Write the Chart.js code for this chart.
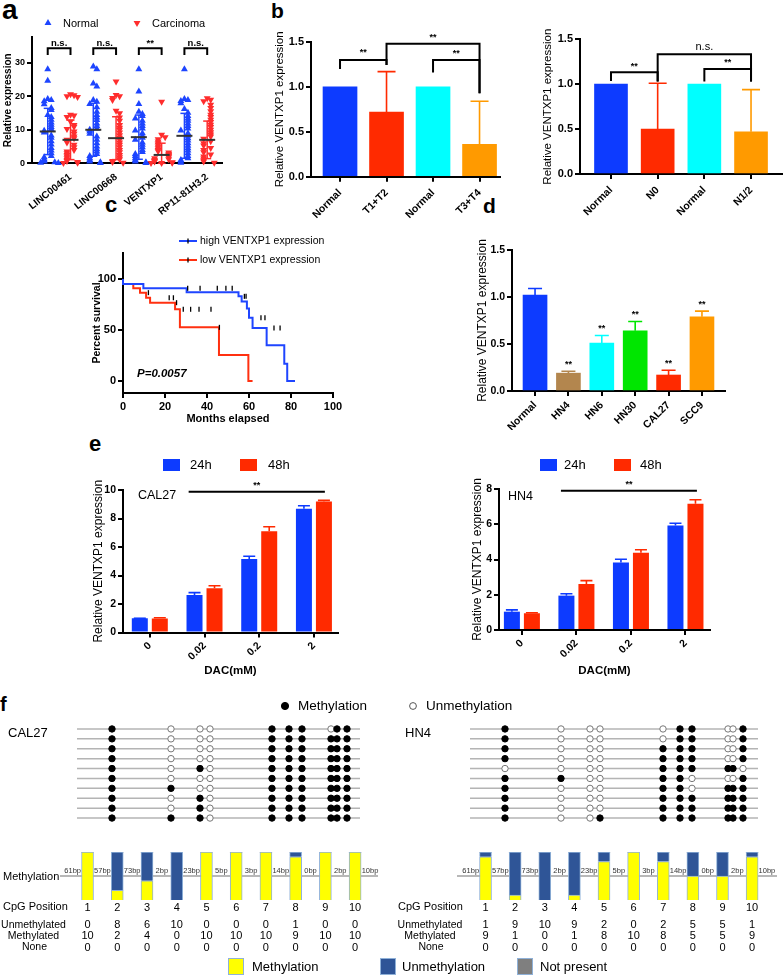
<!DOCTYPE html>
<html><head><meta charset="utf-8">
<script src="https://cdn.jsdelivr.net/npm/chart.js@4.4.1/dist/chart.umd.min.js"></script>
<style>
html,body{margin:0;padding:0;background:#fff;}
body{width:783px;height:976px;position:relative;overflow:hidden;}
.pl{position:absolute;font-family:'Liberation Sans',Arial,sans-serif;font-weight:bold;line-height:1;color:#000;}
</style></head><body>
<div class="pl" style="left:2px;top:-4px;font-size:28px">a</div>
<div class="pl" style="left:271px;top:0px;font-size:21px">b</div>
<div class="pl" style="left:105px;top:194px;font-size:22px">c</div>
<div class="pl" style="left:483px;top:195px;font-size:21px">d</div>
<div class="pl" style="left:89px;top:433px;font-size:22px">e</div>
<div class="pl" style="left:0px;top:694px;font-size:20px">f</div>
<script>
// ================= DATA =================
// panel a
const aGenes = ['LINC00461','LINC00668','VENTXP1','RP11-81H3.2'];
const aNormal1 = [28.1,24.6,19.2,18.9,18.5,17.6,16.5,15.9,14.4,13.8,13,12.2,11.5,10.8,10.2,9.7,9.2,8.3,7.6,6.6,5.6,4.6,3.8,3,2.2,1.8,1.2,0.8,0.5,0.3,0.2,0.1];
const aNormal2 = [28.9,28.1,23.8,22.9,18.9,18.4,17.7,16.7,15.4,14.4,13.7,12.9,11.9,11.1,10.4,10,9.5,8.8,8,7,6,5,4.2,3.5,2.8,2.2,1.5,1,0.5,0.3,0.1];
const aNormal3 = [28.1,21.4,17.7,15.4,14.7,14.1,13.4,12.7,11.9,11.1,10.4,9.8,9,8.2,7.6,7,6.2,5.5,4.8,4,3.4,2.8,2.2,1.5,1,0.5,0.3,0.1];
const aNormal4 = [28.1,19.2,18.9,18.6,17.9,16.2,15.1,14.1,13.4,12.7,11.9,11.1,10.4,9.8,9,8.2,7.5,6.8,6,5.2,4.5,3.8,3,2.2,1.5,1,0.5,0.2];
const aCarc1 = [20.6,20.3,20,19.8,14.5,14.3,13.8,12.5,11.4,10.9,10.2,9.5,8.8,8,7.5,7,6.2,5.5,4.8,4,3.5,3,2.5,2,1.5,1,0.7,0.4,0.2,0.1];
const aCarc2 = [24.4,20.4,20,19.5,18.9,15.7,14.9,13.7,12.7,11.4,10.6,10,9.2,8.4,7.6,7,6.2,5.5,4.8,4,3.3,2.5,1.8,1.2,0.7,0.4,0.2];
const aCarc3 = [18.4,8.5,7.8,7.2,6.5,6,5.5,5,4.5,4,3.6,3.2,2.8,2.5,2.2,1.8,1.5,1.2,1,0.7,0.5,0.3,0.2,0.1,0.1];
const aCarc4 = [19.4,19,18.5,17.5,16.5,15.5,14.5,13.8,13,12.3,11.5,10.8,10,9.3,8.6,8,7.3,6.6,6,5.3,4.6,4,3.3,2.6,2,1.4,0.9,0.5,0.2];
const aNormal = [aNormal1, aNormal2, aNormal3, aNormal4];
const aCarcinoma = [aCarc1, aCarc2, aCarc3, aCarc4];
const aNormalMean = [9.5, 10.0, 7.8, 8.2];
const aNormalSD = [6.9, 7.9, 6.6, 6.7];
const aCarcMean = [7.0, 7.5, 2.5, 7.0];
const aCarcSD = [5.9, 6.4, 3.5, 5.6];
const aSig = ['n.s.','n.s.','**','n.s.'];
const aYTicks = [0,10,20,30];

// panel b
const bTCats = ['Normal','T1+T2','Normal','T3+T4'];
const bTValues = [1.0, 0.72, 1.0, 0.36];
const bTErr = [null, 1.17, null, 0.84];
const bNCats = ['Normal','N0','Normal','N1/2'];
const bNValues = [1.0, 0.50, 1.0, 0.47];
const bNErr = [null, 1.01, null, 0.94];
const bYTicks = [0, 0.5, 1.0, 1.5];

// panel c
const cHighMonths = [0, 9.7, 30.3, 55, 56.5, 59, 60, 61.7, 68.4, 76.8, 78.2, 81.9];
const cHighSurv   = [100, 95, 91, 87, 83, 78, 71, 62, 52, 35, 17, 0];
const cHighCensM  = [30.8, 36.7, 44.9, 49, 52, 57.8, 58.6, 65.7, 67.6, 71.9, 74.8];
const cHighCensS  = [91, 91, 91, 91, 91, 83, 83, 62, 62, 52, 52];
const cLowMonths  = [0, 4.9, 8.1, 11, 12.9, 24.8, 27.1, 45.7, 59.7, 61.7];
const cLowSurv    = [100, 95, 91, 86.6, 81.6, 76.8, 70.3, 52.6, 25.5, 0];
const cLowCensM   = [12.1, 22, 24, 25.5, 28.7, 32.2, 36.2, 41.9, 45.9];
const cLowCensS   = [86.6, 81.6, 81.6, 76.8, 70.3, 70.3, 70.3, 70.3, 52.6];
const cXTicks = [0,20,40,60,80,100];
const cYTicks = [0,50,100];

// panel d
const dLines = ['Normal','HN4','HN6','HN30','CAL27','SCC9'];
const dValues = [1.02, 0.19, 0.51, 0.64, 0.17, 0.79];
const dErr = [1.09, 0.21, 0.59, 0.74, 0.22, 0.85];
const dSig = ['', '**', '**', '**', '**', '**'];

// panel e
const eDoses = ['0','0.02','0.2','2'];
const eCal24 = [1.0, 2.63, 5.16, 8.68];
const eCal24Err = [1.0, 2.80, 5.35, 8.90];
const eCal48 = [0.98, 3.10, 7.10, 9.20];
const eCal48Err = [1.03, 3.28, 7.42, 9.27];
const eHn24 = [1.04, 1.95, 3.83, 5.93];
const eHn24Err = [1.14, 2.06, 4.01, 6.06];
const eHn48 = [0.95, 2.61, 4.39, 7.16];
const eHn48Err = [0.98, 2.80, 4.55, 7.39];
const eCalTicks = [0,2,4,6,8,10];
const eHnTicks = [0,2,4,6,8];

// panel f
const fCalPos = [35, 94, 123, 133, 195, 212, 225, 254, 260, 270];
const fCalLen = 283;
const fHnPos = [35, 91, 120, 130, 193, 210, 222, 258, 263, 273];
const fHnLen = 288;
const fCalRows = [
  [1,0,0,0,1,1,1,0,1,1],
  [1,0,0,0,1,1,1,1,1,1],
  [1,0,0,0,1,1,1,1,1,1],
  [1,0,0,0,1,1,1,1,1,1],
  [1,0,1,0,1,1,1,1,1,1],
  [1,0,0,0,1,1,1,1,1,1],
  [1,1,0,0,1,1,1,1,1,1],
  [1,0,1,0,1,1,1,1,1,1],
  [1,0,1,0,1,1,1,1,1,1],
  [1,1,1,0,1,1,1,1,1,1]];
const fHnRows = [
  [1,0,0,0,0,1,1,0,0,1],
  [1,0,0,0,0,1,1,0,0,1],
  [1,0,0,0,1,1,1,0,0,1],
  [1,0,0,0,1,1,1,0,0,1],
  [0,0,0,0,1,1,1,1,1,0],
  [1,1,0,0,1,1,0,0,0,1],
  [1,0,0,0,1,1,0,1,1,1],
  [1,0,0,0,1,1,1,1,1,1],
  [1,0,0,0,1,1,1,1,1,1],
  [1,0,0,1,1,1,1,1,1,1]];
const fCpG = [1,2,3,4,5,6,7,8,9,10];
const fBp = ['61bp','57bp','73bp','2bp','23bp','5bp','3bp','14bp','0bp','2bp','10bp'];
const fCalUnmeth = [0,8,6,10,0,0,0,1,0,0];
const fCalMeth   = [10,2,4,0,10,10,10,9,10,10];
const fCalNone   = [0,0,0,0,0,0,0,0,0,0];
const fHnUnmeth  = [1,9,10,9,2,0,2,5,5,1];
const fHnMeth    = [9,1,0,1,8,10,8,5,5,9];
const fHnNone    = [0,0,0,0,0,0,0,0,0,0];

// ================= HELPERS =================
const FF = "'Liberation Sans', Arial, Helvetica, sans-serif";
function F(size, weight, style){ return {family:FF, size:size, weight:weight||'normal', style:style||'normal', lineHeight:1.2}; }
function CF(size, weight, style){ return (style||'normal')+' '+(weight||'normal')+' '+size+'px '+FF; }
Chart.defaults.font.family = FF;
Chart.defaults.color = '#000';

const BLUE='#0d3bff', RED='#ff2a00', CYAN='#00ffff', ORANGE='#ff9a00', GREEN='#00e600', BROWN='#b3864e';
const A_BLUE='#1d45ff', A_RED='#ff2d2d';
const K_BLUE='#1f45ff', K_RED='#ff3010';
const M_YEL='#ffff00', M_BLUE='#2f5597', M_GRAY='#7f7f7f', M_EDGE='#8fb1d8';

function text(ctx, s, x, y, font, align, color, baseline){
  ctx.save(); ctx.font=font; ctx.fillStyle=color||'#000'; ctx.textAlign=align||'left'; ctx.textBaseline=baseline||'middle'; ctx.fillText(s,x,y); ctx.restore();
}
function poly(ctx, pts, color, w){
  ctx.save(); ctx.strokeStyle=color; ctx.lineWidth=w; ctx.beginPath();
  pts.forEach((p,i)=> i?ctx.lineTo(p[0],p[1]):ctx.moveTo(p[0],p[1])); ctx.stroke(); ctx.restore();
}
function box(ctx,x,y,w,h,fill,stroke){
  ctx.save(); ctx.fillStyle=fill; ctx.fillRect(x,y,w,h);
  if(stroke){ ctx.strokeStyle=stroke; ctx.lineWidth=1; ctx.strokeRect(x+0.5,y+0.5,w-1,h-1); } ctx.restore();
}
function circ(ctx,x,y,r,fill,stroke){
  ctx.save(); ctx.beginPath(); ctx.arc(x,y,r,0,Math.PI*2); ctx.fillStyle=fill; ctx.fill();
  ctx.strokeStyle=stroke; ctx.lineWidth=1; ctx.stroke(); ctx.restore();
}
function triMark(ctx,x,y,r,col,down){
  const s=down?-1:1; ctx.save(); ctx.beginPath();
  ctx.moveTo(x, y-s*r); ctx.lineTo(x+r*0.866, y+s*r*0.5); ctx.lineTo(x-r*0.866, y+s*r*0.5); ctx.closePath();
  ctx.fillStyle=col; ctx.fill(); ctx.restore();
}
function fixSize(v, horiz){ return s=>{ if(horiz) s.height=v; else s.width=v; s.paddingLeft=0; s.paddingRight=0; s.paddingTop=0; s.paddingBottom=0; }; }
function axis(o){
  const d = {border:{display:true,color:'#000',width:2},
             grid:{display:true,drawOnChartArea:false,drawTicks:true,tickLength:5,color:'#000',lineWidth:2,offset:false},
             ticks:{color:'#000',padding:2}};
  for(const k of ['border','grid','ticks']) o[k] = Object.assign({}, d[k], o[k]||{});
  return o;
}
function tickList(list){ return s=>{ s.ticks = list.map(v=>({value:v})); }; }
// layout-only: spread points of one column horizontally (beeswarm style)
function swarm(vals, center){
  const pat=[0,1,-1,2,-2,3,-3], placed=[];
  return vals.map(v=>{ const n = placed.filter(p=>Math.abs(p-v)<1.3).length; placed.push(v); return {x:center+pat[n%7]*0.155, y:v}; });
}

function makeChart(bx, area, cfg, draw, under, extra){
  const [x0,y0,w,h]=bx, [L,T,R,B]=area;
  const cv=document.createElement('canvas'); cv.width=w; cv.height=h;
  cv.style.cssText='position:absolute;left:'+x0+'px;top:'+y0+'px;width:'+w+'px;height:'+h+'px;';
  document.body.appendChild(cv);
  const o=cfg.options=cfg.options||{};
  Object.assign(o,{responsive:false,animation:false,devicePixelRatio:1,events:[]});
  o.plugins=Object.assign({legend:{display:false},tooltip:{enabled:false},title:{display:false}},o.plugins||{});
  const sx=o.scales.x, sy=o.scales.y;
  const xOn=sx.display!==false, yOn=sy.display!==false;
  o.layout={padding:{left:yOn?0:L-x0, top:T-y0, right:x0+w-R, bottom:xOn?0:y0+h-B}};
  if(yOn) sy.afterFit=fixSize(L-x0,false);
  if(xOn) sx.afterFit=fixSize(y0+h-B,true);
  const wrap=fn=>function(chart){ const ctx=chart.ctx, xs=chart.scales.x, ys=chart.scales.y;
    ctx.save(); ctx.translate(-x0,-y0);
    fn(ctx, v=>xs.getPixelForValue(v)+x0, v=>ys.getPixelForValue(v)+y0, chart); ctx.restore(); };
  const plugins=(extra||[]).slice();
  if(under) plugins.push({id:'under',beforeDatasetsDraw:wrap(under)});
  if(draw) plugins.push({id:'over',afterDraw:wrap(draw)});
  cfg.plugins=plugins;
  return new Chart(cv, cfg);
}

const errPlugin = {id:'errbars', afterDatasetsDraw(chart){
  const ctx=chart.ctx, ys=chart.scales.y;
  chart.data.datasets.forEach((ds,di)=>{
    if(!ds.errTop) return;
    chart.getDatasetMeta(di).data.forEach((el,i)=>{
      const e=ds.errTop[i]; if(e==null) return;
      const col=Array.isArray(ds.backgroundColor)?ds.backgroundColor[i]:ds.backgroundColor;
      const yt=ys.getPixelForValue(e), cw=ds.capW||10;
      ctx.save(); ctx.strokeStyle=col; ctx.lineWidth=1.6; ctx.beginPath();
      ctx.moveTo(el.x, el.y); ctx.lineTo(el.x, yt); ctx.moveTo(el.x-cw/2, yt); ctx.lineTo(el.x+cw/2, yt); ctx.stroke(); ctx.restore();
    });
  });
}};

function bracket(ctx, X, Y, b){ // b: [x1,x2,yH,yLeftEnd,yRightEnd]
  poly(ctx, [[X(b[0]),Y(b[3])],[X(b[0]),Y(b[2])],[X(b[1]),Y(b[2])],[X(b[1]),Y(b[4])]], '#000', 2);
}

// ================= PANEL a =================
makeChart([0,0,240,220],[32,37.3,222,163.3],{
  type:'scatter',
  data:{datasets:[
    {data:aGenes.flatMap((g,i)=>swarm(aNormal[i],2*i)), pointStyle:'triangle', pointRadius:4, backgroundColor:A_BLUE, borderColor:A_BLUE, borderWidth:0, clip:false},
    {data:aGenes.flatMap((g,i)=>swarm(aCarcinoma[i],2*i+1)), pointStyle:'triangle', pointRotation:180, pointRadius:4, backgroundColor:A_RED, borderColor:A_RED, borderWidth:0, clip:false}
  ]},
  options:{scales:{
    x: axis({type:'linear',min:-0.69,max:7.65, grid:{drawTicks:false}, afterBuildTicks:tickList([1.0,3.0,5.0,7.0]),
      ticks:{autoSkip:false,minRotation:38,maxRotation:38,padding:8,font:F(10,'bold'),callback:(v,i)=>aGenes[i]}}),
    y: axis({min:0,max:37.6, afterBuildTicks:tickList(aYTicks), ticks:{font:F(9,'bold')},
      title:{display:true,text:'Relative expression',font:F(10,'bold'),padding:{top:2,bottom:0}}})
  }}
}, (ctx,X,Y)=>{
  triMark(ctx,48,23,4,A_BLUE,false); text(ctx,'Normal',63,23.5,CF(11));
  triMark(ctx,137,23,4,A_RED,true); text(ctx,'Carcinoma',152,23.5,CF(11));
  aGenes.forEach((g,i)=>{
    [[aNormalMean,aNormalSD,A_BLUE,0],[aCarcMean,aCarcSD,A_RED,1]].forEach(([M,S,col,k])=>{
      const cx=X(2*i+k), m=M[i], s=S[i], yt=Y(m+s), yb=Y(Math.max(0,m-s));
      poly(ctx,[[cx,yt],[cx,yb]],col,1.5);
      poly(ctx,[[cx-4,yt],[cx+4,yt]],col,1.5);
      poly(ctx,[[cx-4,yb],[cx+4,yb]],col,1.5);
      poly(ctx,[[cx-8,Y(m)],[cx+8,Y(m)]],'#333',2);
    });
    bracket(ctx,X,Y,[2*i,2*i+1,34.3,32.3,32.3]);
    text(ctx,aSig[i],(X(2*i)+X(2*i+1))/2,Y(34.3)-5,CF(9.5,'bold'),'center');
  });
});

// ================= PANEL b =================
function simpleBars(bx, area, o, draw){
  return makeChart(bx, area, {
    type:'bar',
    data:{datasets:[{data:o.vals.map((v,i)=>({x:i,y:v})), backgroundColor:o.colors, borderWidth:0, barThickness:o.thick, errTop:o.errs, capW:o.capW}]},
    options:{scales:{
      x: axis({type:'linear',min:o.xmin,max:o.xmax,offset:false, afterBuildTicks:tickList(o.cats.map((c,i)=>i)),
        ticks:{autoSkip:false,minRotation:45,maxRotation:45,padding:5,font:o.xFont,callback:v=>o.cats[v]}}),
      y: axis({min:0,max:o.ymax, afterBuildTicks:tickList(o.yticks), ticks:{font:o.yFont,callback:v=>v.toFixed(1)},
        title:{display:true,text:'Relative VENTXP1 expression',font:o.titleFont,padding:{top:o.titlePad,bottom:0}}})
    }}
  }, draw, null, [errPlugin]);
}
simpleBars([250,25,255,202],[311,42,500,176.7],{
  cats:bTCats, vals:bTValues, errs:bTErr, colors:[BLUE,RED,CYAN,ORANGE], thick:34, capW:18,
  xmin:-0.624, xmax:3.44, ymax:1.5, yticks:bYTicks, xFont:F(10.5,'bold'), yFont:F(11,'bold'), titleFont:F(11.5), titlePad:23
}, (ctx,X,Y)=>{
  bracket(ctx,X,Y,[0,1,1.30,1.20,1.245]); text(ctx,'**',(X(0)+X(1))/2,Y(1.30)-7,CF(9,'bold'),'center');
  bracket(ctx,X,Y,[1,3,1.48,1.245,0.93]); text(ctx,'**',(X(1)+X(3))/2,Y(1.48)-6,CF(9,'bold'),'center');
  bracket(ctx,X,Y,[2,3,1.30,1.16,0.93]); text(ctx,'**',(X(2)+X(3))/2,Y(1.30)-6,CF(9,'bold'),'center');
});
simpleBars([505,25,278,202],[580,39.3,783,174],{
  cats:bNCats, vals:bNValues, errs:bNErr, colors:[BLUE,RED,CYAN,ORANGE], thick:33, capW:18,
  xmin:-0.664, xmax:3.685, ymax:1.5, yticks:bYTicks, xFont:F(10.5,'bold'), yFont:F(11,'bold'), titleFont:F(11.5), titlePad:36
}, (ctx,X,Y)=>{
  bracket(ctx,X,Y,[0,1,1.133,1.036,1.03]); text(ctx,'**',(X(0)+X(1))/2,Y(1.133)-6,CF(9,'bold'),'center');
  bracket(ctx,X,Y,[1,3,1.333,1.03,1.03]); text(ctx,'n.s.',(X(1)+X(3))/2,Y(1.333)-7,CF(11),'center');
  bracket(ctx,X,Y,[2,3,1.17,1.03,1.03]); text(ctx,'**',(X(2)+X(3))/2,Y(1.17)-6,CF(9,'bold'),'center');
});

// ================= PANEL c =================
makeChart([80,225,265,205],[123,253,333,393],{
  type:'scatter',
  data:{datasets:[
    {data:cHighMonths.map((m,i)=>({x:m,y:cHighSurv[i]})), showLine:true, stepped:'after', borderColor:K_BLUE, borderWidth:2, pointRadius:0, order:2, clip:false},
    {data:cLowMonths.map((m,i)=>({x:m,y:cLowSurv[i]})), showLine:true, stepped:'after', borderColor:K_RED, borderWidth:2, pointRadius:0, order:2, clip:false},
    {data:cHighCensM.map((m,i)=>({x:m,y:cHighCensS[i]})), pointStyle:'line', pointRotation:90, pointRadius:2.5, borderColor:'#000', borderWidth:1.3, order:1},
    {data:cLowCensM.map((m,i)=>({x:m,y:cLowCensS[i]})), pointStyle:'line', pointRotation:90, pointRadius:2.5, borderColor:'#000', borderWidth:1.3, order:1}
  ]},
  options:{scales:{
    x: axis({type:'linear',min:0,max:100, afterBuildTicks:tickList(cXTicks), ticks:{font:F(11,'bold'),maxRotation:0,padding:2},
      title:{display:true,text:'Months elapsed',font:F(11,'bold'),padding:{top:0,bottom:4}}}),
    y: axis({min:-11.8,max:125.5, afterBuildTicks:tickList(cYTicks), ticks:{font:F(11,'bold')},
      title:{display:true,text:'Percent survival',font:F(10.5,'bold'),padding:{top:11,bottom:0}}})
  }}
}, (ctx,X,Y)=>{
  poly(ctx,[[179,241],[197,241]],K_BLUE,2); poly(ctx,[[188,238.5],[188,243.5]],'#000',1.3);
  text(ctx,'high VENTXP1 expression',200,241.5,CF(10.5));
  poly(ctx,[[179,260],[197,260]],K_RED,2); poly(ctx,[[188,257.5],[188,262.5]],'#000',1.3);
  text(ctx,'low VENTXP1 expression',200,260.5,CF(10.5));
  text(ctx,'P=0.0057',137,374,CF(11.5,'bold','italic'));
});

// ================= PANEL d =================
makeChart([465,225,318,205],[512,250,725,391],{
  type:'bar',
  data:{datasets:[{data:dValues.map((v,i)=>({x:i,y:v})), backgroundColor:[BLUE,BROWN,CYAN,GREEN,RED,ORANGE], borderWidth:0, barThickness:24, errTop:dErr, capW:14}]},
  options:{scales:{
    x: axis({type:'linear',min:-0.69,max:5.69,offset:false, afterBuildTicks:tickList(dLines.map((c,i)=>i)),
      ticks:{autoSkip:false,minRotation:45,maxRotation:45,padding:3,font:F(10.5,'bold'),callback:v=>dLines[v]}}),
    y: axis({min:0,max:1.5, afterBuildTicks:tickList(bYTicks), ticks:{font:F(10.5,'bold'),callback:v=>v.toFixed(1)},
      title:{display:true,text:'Relative VENTXP1 expression',font:F(12),padding:{top:10,bottom:0}}})
  }}
}, (ctx,X,Y)=>{
  dSig.forEach((s,i)=>{ if(s) text(ctx,s,X(i),Y(dErr[i])-7,CF(9,'bold'),'center'); });
}, null, [errPlugin]);

// ================= PANEL e =================
function doseBars(bx, area, d24, e24, d48, e48, yticks, xmin, xmax, catPct, titlePad, draw){
  return makeChart(bx, area, {
    type:'bar',
    data:{datasets:[
      {data:d24.map((v,i)=>({x:i,y:v})), backgroundColor:BLUE, borderWidth:0, errTop:e24, capW:12, categoryPercentage:catPct, barPercentage:0.8},
      {data:d48.map((v,i)=>({x:i,y:v})), backgroundColor:RED, borderWidth:0, errTop:e48, capW:12, categoryPercentage:catPct, barPercentage:0.8}
    ]},
    options:{scales:{
      x: axis({type:'linear',min:xmin,max:xmax,offset:false, afterBuildTicks:tickList(eDoses.map((c,i)=>i)),
        ticks:{autoSkip:false,minRotation:45,maxRotation:45,font:F(10.5,'bold'),callback:v=>eDoses[v]},
        title:{display:true,text:'DAC(mM)',font:F(11.5,'bold'),padding:{top:0,bottom:7}}}),
      y: axis({min:0,max:yticks[yticks.length-1], afterBuildTicks:tickList(yticks), ticks:{font:F(10.5,'bold')},
        title:{display:true,text:'Relative VENTXP1 expression',font:F(12),padding:{top:titlePad,bottom:0}}})
    }}
  }, draw, null, [errPlugin]);
}
doseBars([85,445,265,240],[123,490,338,632.5], eCal24, eCal24Err, eCal48, eCal48Err, eCalTicks, -0.49, 3.44, 0.731, 6, (ctx,X,Y)=>{
  box(ctx,163,459,17,12,BLUE); text(ctx,'24h',190,465.5,CF(13));
  box(ctx,240,459,17,12,RED); text(ctx,'48h',268,465.5,CF(13));
  text(ctx,'CAL27',138,496,CF(12.5));
  poly(ctx,[[X(0.71),Y(9.88)],[X(3.2),Y(9.88)]],'#000',2);
  text(ctx,'**',(X(0.71)+X(3.2))/2,Y(9.88)-6,CF(9,'bold'),'center');
});
doseBars([455,445,328,240],[499,489,710,630], eHn24, eHn24Err, eHn48, eHn48Err, eHnTicks, -0.42, 3.45, 0.734, 15, (ctx,X,Y)=>{
  box(ctx,540,459,17,12,BLUE); text(ctx,'24h',564,465.5,CF(13));
  box(ctx,614,459,17,12,RED); text(ctx,'48h',640,465.5,CF(13));
  text(ctx,'HN4',508,497,CF(12.5));
  poly(ctx,[[X(0.716),Y(7.9)],[X(3.21),Y(7.9)]],'#000',2);
  text(ctx,'**',(X(0.716)+X(3.21))/2,Y(7.9)-6,CF(9,'bold'),'center');
});

// ================= PANEL f : lollipops =================
function lollipop(bx, area, pos, len, rows, draw){
  const ds=[];
  rows.forEach((r,ri)=>{
    ds.push({data:[{x:0,y:ri},{x:len,y:ri}], showLine:true, borderColor:'#b4b4b4', borderWidth:1.5, pointRadius:0, order:2, clip:false});
    ds.push({data:pos.map(p=>({x:p,y:ri})), pointRadius:3.2, pointBackgroundColor:r.map(s=>s?'#000':'#fff'),
      pointBorderColor:r.map(s=>s?'#000':'#777'), pointBorderWidth:1, order:1, clip:false});
  });
  return makeChart(bx, area, {type:'scatter', data:{datasets:ds},
    options:{scales:{x:{display:false,type:'linear',min:0,max:len}, y:{display:false,min:-0.5,max:9.5,reverse:true}}}}, draw);
}
lollipop([0,695,390,135],[77,724,360,823], fCalPos, fCalLen, fCalRows, (ctx)=>{
  circ(ctx,285,706,3.6,'#000','#000'); text(ctx,'Methylation',298,706.5,CF(13.5));
  text(ctx,'CAL27',8,733,CF(13));
});
lollipop([390,695,393,135],[470,724,758,823], fHnPos, fHnLen, fHnRows, (ctx)=>{
  circ(ctx,413,706,3.4,'#fff','#555'); text(ctx,'Unmethylation',426,706.5,CF(13.5));
  text(ctx,'HN4',405,733,CF(13));
});

// ================= PANEL f : methylation bars =================
function methylBars(bx, area, xmin, xmax, meth, unmeth, none, rowLbl, draw){
  return makeChart(bx, area, {type:'bar', data:{datasets:[
      {data:meth.map((v,i)=>({x:i,y:v})), backgroundColor:M_YEL, borderColor:M_EDGE, borderWidth:1, barThickness:12},
      {data:unmeth.map((v,i)=>({x:i,y:v})), backgroundColor:M_BLUE, borderColor:M_EDGE, borderWidth:1, barThickness:12},
      {data:none.map((v,i)=>({x:i,y:v})), backgroundColor:M_GRAY, borderWidth:0, barThickness:12}
    ]},
    options:{scales:{x:{display:false,type:'linear',min:xmin,max:xmax,stacked:true,offset:false}, y:{display:false,min:0,max:10,stacked:true}}}
  }, (ctx,X,Y)=>{
    fBp.forEach((s,i)=> text(ctx,s,X(i-0.5),Y(5)-5,CF(7.5),'center','#333'));
    fCpG.forEach((n,i)=>{
      text(ctx,String(n),X(i),908,CF(11),'center');
      text(ctx,String(unmeth[i]),X(i),925,CF(11),'center');
      text(ctx,String(meth[i]),X(i),936,CF(11),'center');
      text(ctx,String(none[i]),X(i),947.5,CF(11),'center');
    });
    text(ctx,'CpG Position',rowLbl[0],907,CF(11));
    text(ctx,'Unmethylated',rowLbl[1],925,CF(10.5),'center');
    text(ctx,'Methylated',rowLbl[1],936,CF(10.5),'center');
    text(ctx,'None',rowLbl[1]+1,947,CF(10.5),'center');
    draw(ctx,X,Y);
  }, (ctx,X,Y)=>{
    poly(ctx,[[X(xmin),Y(5)],[X(xmax),Y(5)]],'#a0a0a0',1.5);
  });
}
methylBars([0,840,390,136],[60,852,378,900], -0.926, 9.77, fCalMeth, fCalUnmeth, fCalNone, [3,33.5], (ctx)=>{
  text(ctx,'Methylation',3,877,CF(11));
  box(ctx,228,958,16,17,M_YEL,M_EDGE); text(ctx,'Methylation',252,967,CF(13));
});
methylBars([375,840,408,136],[457,852,777,900], -0.963, 9.84, fHnMeth, fHnUnmeth, fHnNone, [398,430], (ctx)=>{
  box(ctx,380,958,16,17,M_BLUE,M_EDGE); text(ctx,'Unmethylation',402,967,CF(13));
  box(ctx,517,958,16,17,M_GRAY,M_EDGE); text(ctx,'Not present',540,967,CF(13));
});
</script></body></html>
